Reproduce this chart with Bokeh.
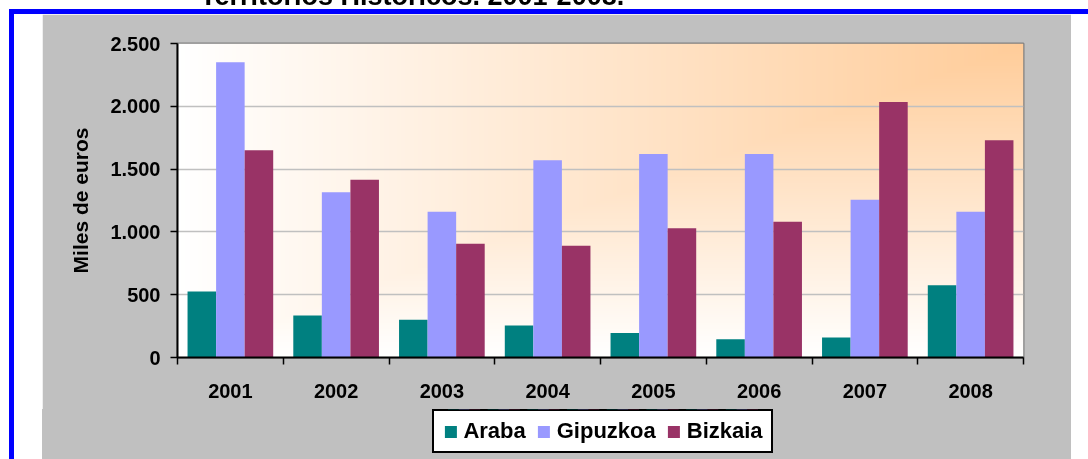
import numpy as np
from bokeh.plotting import figure
from bokeh.models import (ColumnDataSource, Range1d, FixedTicker, CustomJSTickFormatter,
                          Legend, LegendItem, Div, Spacer)
from bokeh.layouts import column, row
from bokeh.transform import dodge
from bokeh.embed import file_html
from bokeh.resources import INLINE

# ---------------- data ----------------
title = "Territorios Históricos. 2001-2008."
years = ["2001", "2002", "2003", "2004", "2005", "2006", "2007", "2008"]
araba = [525, 335, 300, 255, 195, 145, 160, 575]
gipuzkoa = [2350, 1315, 1160, 1570, 1620, 1620, 1255, 1160]
bizkaia = [1650, 1415, 905, 890, 1030, 1080, 2035, 1730]
series_names = ["Araba", "Gipuzkoa", "Bizkaia"]
series_colors = ["#008080", "#9999FF", "#993366"]
y_ticks = [0, 500, 1000, 1500, 2000, 2500]
y_tick_labels = ["0", "500", "1.000", "1.500", "2.000", "2.500"]
y_title = "Miles de euros"

FONT = "Liberation Sans"
GRAY = "#c0c0c0"
n = len(years)
centers = [i + 0.5 for i in range(n)]
bounds = list(range(n + 1))
bar_w = 0.27

src = ColumnDataSource(dict(x=centers, years=years, Araba=araba,
                            Gipuzkoa=gipuzkoa, Bizkaia=bizkaia))

# ---------------- main chart ----------------
p = figure(width=1029, height=395,
           x_range=Range1d(0, n), y_range=Range1d(y_ticks[0], y_ticks[-1]),
           output_backend="svg", toolbar_location=None,
           min_border_left=135, min_border_right=48,
           min_border_top=29, min_border_bottom=52, margin=0)
p.border_fill_color = GRAY
p.background_fill_color = "white"
p.outline_line_color = "#808080"
p.outline_line_width = 2

# gradient background of plot area (white -> peach toward top-right corner)
gh, gw = 160, 400
X, Y = np.meshgrid(np.linspace(0, 1, gw), np.linspace(0, 1, gh))
t = np.minimum(X, Y)
img = np.empty((gh, gw), dtype=np.uint32)
view = img.view(dtype=np.uint8).reshape((gh, gw, 4))
view[..., 0] = 255
view[..., 1] = np.round(255 - 51 * t).astype(np.uint8)
view[..., 2] = np.round(255 - 102 * t).astype(np.uint8)
view[..., 3] = 255
p.image_rgba(image=[img], x=0, y=y_ticks[0], dw=n, dh=y_ticks[-1] - y_ticks[0], level="image")

for k, (name, col) in enumerate(zip(series_names, series_colors)):
    p.vbar(x=dodge("x", (k - 1) * bar_w), top=name, width=bar_w, source=src,
           fill_color=col, line_color=None)

# x axis
xax = p.xaxis[0]
xax.ticker = FixedTicker(ticks=centers, minor_ticks=bounds)
xax.formatter = CustomJSTickFormatter(args=dict(labels=years),
                                      code="return labels[Math.floor(tick)];")
xax.major_tick_out = 0
xax.major_tick_in = 0
xax.minor_tick_out = 7
xax.minor_tick_in = 0
xax.minor_tick_line_color = "black"
xax.minor_tick_line_width = 1.5
xax.axis_line_color = "black"
xax.axis_line_width = 2
xax.major_label_text_font = FONT
xax.major_label_text_font_style = "bold"
xax.major_label_text_font_size = "20px"
xax.major_label_text_color = "black"
xax.major_label_standoff = 19

# y axis
yax = p.yaxis[0]
yax.ticker = FixedTicker(ticks=y_ticks, minor_ticks=[])
yax.major_label_overrides = dict(zip(y_ticks, y_tick_labels))
yax.major_tick_out = 7
yax.major_tick_in = 0
yax.major_tick_line_color = "black"
yax.major_tick_line_width = 1.5
yax.axis_line_color = "black"
yax.axis_line_width = 2
yax.major_label_text_font = FONT
yax.major_label_text_font_style = "bold"
yax.major_label_text_font_size = "20px"
yax.major_label_text_color = "black"
yax.major_label_standoff = 10
yax.axis_label = y_title
yax.axis_label_text_font = FONT
yax.axis_label_text_font_style = "bold"
yax.axis_label_text_font_size = "21px"
yax.axis_label_text_color = "black"
yax.axis_label_standoff = 15

p.xgrid.visible = False
p.ygrid.grid_line_color = GRAY
p.ygrid.grid_line_width = 1.5

# ---------------- legend box (own small figure, legend fills its frame) ----------------
lf = figure(width=341, height=44, x_axis_type=None, y_axis_type=None,
            y_range=Range1d(-2, -1), output_backend="svg", toolbar_location=None,
            min_border=0, margin=0)
lf.grid.visible = False
lf.background_fill_color = "white"
lf.border_fill_color = "white"
lf.outline_line_color = "black"
lf.outline_line_width = 3
items = []
for k, (name, col) in enumerate(zip(series_names, series_colors)):
    r = lf.vbar(x=dodge("x", (k - 1) * bar_w), top=name, width=bar_w, source=src,
                fill_color=col, line_color=None)
    items.append(LegendItem(label=name, renderers=[r]))
legend = Legend(items=items, location="center", orientation="horizontal",
                border_line_color=None,
                background_fill_color="white", background_fill_alpha=1.0,
                label_text_font=FONT, label_text_font_style="bold",
                label_text_font_size="22px", label_text_color="black",
                glyph_width=15, glyph_height=15, label_standoff=6,
                spacing=10, padding=0, margin=0)
lf.add_layout(legend)

# ---------------- page frame (white margin, blue rules, grey panel) ----------------
blue = {"background-color": "#0000ff"}
gray = {"background-color": GRAY}
title_div = Div(text=('<div style="position:fixed;left:200px;top:-17px;white-space:nowrap;'
                      "font-family:'Liberation Sans';font-weight:bold;font-size:27px;"
                      'line-height:27px;color:#000">' + title + '</div>'),
                width=1088, height=9, margin=0)
panel = column(p,
               row(Spacer(width=390, height=44, styles=gray, margin=0), lf,
                   Spacer(width=298, height=44, styles=gray, margin=0), margin=0),
               Spacer(width=1029, height=6, styles=gray, margin=0),
               margin=0)
inner = column(Spacer(width=1079, height=5, styles=blue, margin=0),
               row(Spacer(width=5, height=445, styles=blue, margin=0),
                   Spacer(width=28, height=445, margin=0), panel, margin=0),
               margin=0)
layout = column(title_div, row(Spacer(width=9, height=450, margin=0), inner, margin=0), margin=0)

open("out.html", "w").write(file_html(layout, INLINE))
